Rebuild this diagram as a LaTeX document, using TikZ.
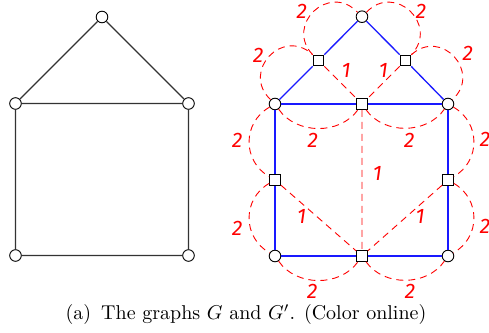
\documentclass[tikz,border=0pt]{standalone}
\usepackage{fontspec}
\usepackage{tikz}
\usetikzlibrary{positioning}
\newfontfamily\wfont{Fira Sans}

\begin{document}
\begin{tikzpicture}[
  x=0.5pt, y=0.5pt,
  font=\normalsize,
  vtx/.style={draw, circle, fill=white, inner sep=0pt, minimum size=5.8pt, line width=0.45pt},
  sub/.style={draw, rectangle, fill=white, inner sep=0pt, minimum size=5.4pt, line width=0.45pt},
  gedge/.style={draw=black!80, line width=0.55pt},
  bedge/.style={draw=blue!90!white, line width=0.65pt},
  wedge/.style={draw=red, dash pattern=on 3.5pt off 2.5pt, line width=0.45pt},
  roof/.style={wedge, bend left=90, looseness=1.7},
  lab/.style={red, font=\wfont\fontsize{10.5}{12}\selectfont\itshape, inner sep=0pt}
]
\useasboundingbox (0,0) rectangle (489,333);
% graph G
\node[vtx] (g1) at (102,316) {};
\node[vtx] (g2) at (15.5,229.5) {};
\node[vtx] (g3) at (188.5,229.5) {};
\node[vtx] (g4) at (15.5,77.5) {};
\node[vtx] (g5) at (188.5,77.5) {};
\draw[gedge] (g1)--(g2) (g1)--(g3) (g2)--(g3) (g2)--(g4) (g3)--(g5) (g4)--(g5);
% graph G'
\node[vtx] (h1) at (362,316.3) {};
\node[vtx] (h2) at (275,229) {};
\node[vtx] (h3) at (448,229) {};
\node[vtx] (h4) at (275,77) {};
\node[vtx] (h5) at (448,77) {};
\node[sub] (s1) at (318.5,272.5) {};
\node[sub] (s2) at (405.5,272.5) {};
\node[sub] (s3) at (362,229) {};
\node[sub] (s4) at (275,153) {};
\node[sub] (s5) at (448,153) {};
\node[sub] (s6) at (362,77) {};
% weights
\draw[roof] (s1) to (h1);
\draw[roof] (h1) to (s2);
\draw[roof] (h2) to (s1);
\draw[roof] (s2) to (h3);
\draw[wedge] (h2) to[bend right=55] (s3);
\draw[wedge] (s3) to[bend right=55] (h3);
\draw[wedge] (h2) to[bend right=60, looseness=1.15] (s4);
\draw[wedge] (s4) to[bend right=60, looseness=1.15] (h4);
\draw[wedge] (h3) to[bend left=60, looseness=1.15] (s5);
\draw[wedge] (s5) to[bend left=60, looseness=1.15] (h5);
\draw[wedge] (h4) to[bend right=55] (s6);
\draw[wedge] (s6) to[bend right=55] (h5);
\draw[wedge] (s1)--(s3) (s2)--(s3) (s3)--(s6) (s4)--(s6) (s5)--(s6);
% subdivided edges
\draw[bedge] (h2)--(s1) (s1)--(h1) (h1)--(s2) (s2)--(h3);
\draw[bedge] (h2)--(s3) (s3)--(h3);
\draw[bedge] (h2)--(s4) (s4)--(h4);
\draw[bedge] (h3)--(s5) (s5)--(h5);
\draw[bedge] (h4)--(s6) (s6)--(h5);
\node[lab] (w1) at (301.7,321.3) {2};
\node[lab] (w2) at (421,321.3) {2};
\node[lab] (w3) at (258.3,278) {2};
\node[lab] (w4) at (467.7,279.7) {2};
\node[lab] (w5) at (237.3,193) {2};
\node[lab] (w6) at (312.7,193) {2};
\node[lab] (w7) at (409.3,193) {2};
\node[lab] (w8) at (485,193.7) {2};
\node[lab] (w9) at (237.3,104.7) {2};
\node[lab] (w10) at (485,106.3) {2};
\node[lab] (w11) at (312.3,42) {2};
\node[lab] (w12) at (410,42) {2};
\node[lab] (u1) at (346,263) {1};
\node[lab] (u2) at (383.3,263) {1};
\node[lab] (u3) at (377.3,159.7) {1};
\node[lab] (u4) at (301.7,116.3) {1};
\node[lab] (u5) at (420,116.3) {1};
\node (cap) at (246,18.5) {(a)\enspace The graphs $G$ and $G'$. (Color online)};
\end{tikzpicture}
\end{document}
